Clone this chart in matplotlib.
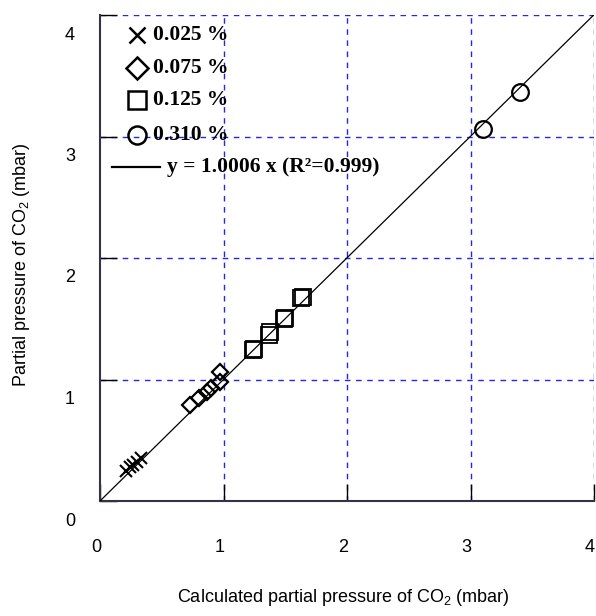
import matplotlib
matplotlib.use('Agg')
import matplotlib.pyplot as plt
import numpy as np

# data (mbar)
x_025 = [0.21, 0.24, 0.27, 0.30, 0.33]
y_025 = [0.25, 0.28, 0.30, 0.32, 0.35]
x_075 = [0.73, 0.80, 0.87, 0.90, 0.97, 0.97]
y_075 = [0.79, 0.85, 0.90, 0.93, 0.98, 1.06]
x_125 = [1.24, 1.25, 1.37, 1.38, 1.49, 1.50, 1.63, 1.64]
y_125 = [1.24, 1.25, 1.37, 1.39, 1.50, 1.51, 1.67, 1.68]
x_310 = [3.10, 3.40]
y_310 = [3.06, 3.37]
slope = 1.0006
r2 = 0.999
ticks = [0, 1, 2, 3, 4]
series_labels = ['0.025 %', '0.075 %', '0.125 %', '0.310 %']

plt.rcParams['font.family'] = ['Liberation Sans', 'DejaVu Sans']
plt.rcParams['mathtext.fontset'] = 'custom'
plt.rcParams['mathtext.rm'] = 'Liberation Sans'

fig = plt.figure(figsize=(5.96, 6.16), dpi=100)
ax = fig.add_axes([100/596, 115/616, 494/596, 486/616])
ax.set_xlim(0, 4)
ax.set_ylim(0, 4)

# grid: blue dashed, including the top/right edges
for t in ticks[1:]:
    ax.axvline(t, color='#2626e6', lw=1, ls=(0, (4, 4)), zorder=1)
    ax.axhline(t, color='#2626e6', lw=1, ls=(0, (4, 4)), zorder=1)

for s in ['top', 'right']:
    ax.spines[s].set_visible(False)
for s in ['left', 'bottom']:
    ax.spines[s].set_color('#333344')
    ax.spines[s].set_linewidth(1.5)

ax.set_xticks(ticks)
ax.set_yticks(ticks)
ax.tick_params(direction='in', length=12, width=1, color='black',
               labelbottom=False, labelleft=False)

# tick labels, offset like the original
for t in ticks:
    ax.annotate(str(t), (t, 0), xytext=(-4, -46), textcoords='offset pixels',
                ha='center', va='center', fontsize=13)
    ax.annotate(str(t), (0, t), xytext=(-30, -20), textcoords='offset pixels',
                ha='center', va='center', fontsize=13)

# fit line
xl = np.array([0, 4])
ax.plot(xl, slope * xl, color='black', lw=0.9, zorder=3)

mk = dict(linestyle='none', markerfacecolor='none', markeredgecolor='black', zorder=4)
ax.plot(x_025, y_025, marker='x', markersize=8.5, markeredgewidth=1.5, **mk)
ax.plot(x_075, y_075, marker='D', markersize=8.5, markeredgewidth=1.6, **mk)
ax.plot(x_125, y_125, marker='s', markersize=11.5, markeredgewidth=1.3, **mk)
ax.plot(x_310, y_310, marker='o', markersize=12, markeredgewidth=1.6, **mk)

# legend drawn by hand
def px(x, y):
    return ((x - 100) / 494, (501 - y) / 486)

tr = ax.transAxes
legend_rows = [('x', 12, 35), ('D', 11, 68), ('s', 13, 100), ('o', 13, 135)]
for (m, ms, yy), lab in zip(legend_rows, series_labels):
    ax.plot(*px(137, yy), marker=m, markersize=ms, markeredgewidth=1.8,
            transform=tr, clip_on=False, **mk)
    ax.text(*px(153, yy), lab, transform=tr, ha='left', va='center',
            fontsize=15.5, fontweight='bold', family='Liberation Serif', zorder=5)
p0 = px(112, 167)
p1 = px(160, 167)
ax.plot([p0[0], p1[0]], [p0[1], p1[1]], color='black', lw=1.6, transform=tr)
ax.text(*px(167, 167), 'y = %.4f x (R\u00b2=%.3f)' % (slope, r2), transform=tr,
        ha='left', va='center', fontsize=15.5, fontweight='bold',
        family='Liberation Serif', zorder=5)

fig.text(343/596, 1 - 598/616, 'Calculated partial pressure of CO$_2$ (mbar)',
         ha='center', va='center', fontsize=13)
fig.text(22/596, 1 - 265/616, 'Partial pressure of CO$_2$ (mbar)',
         ha='center', va='center', fontsize=13, rotation=90)

fig.savefig('out.png', dpi=100)
